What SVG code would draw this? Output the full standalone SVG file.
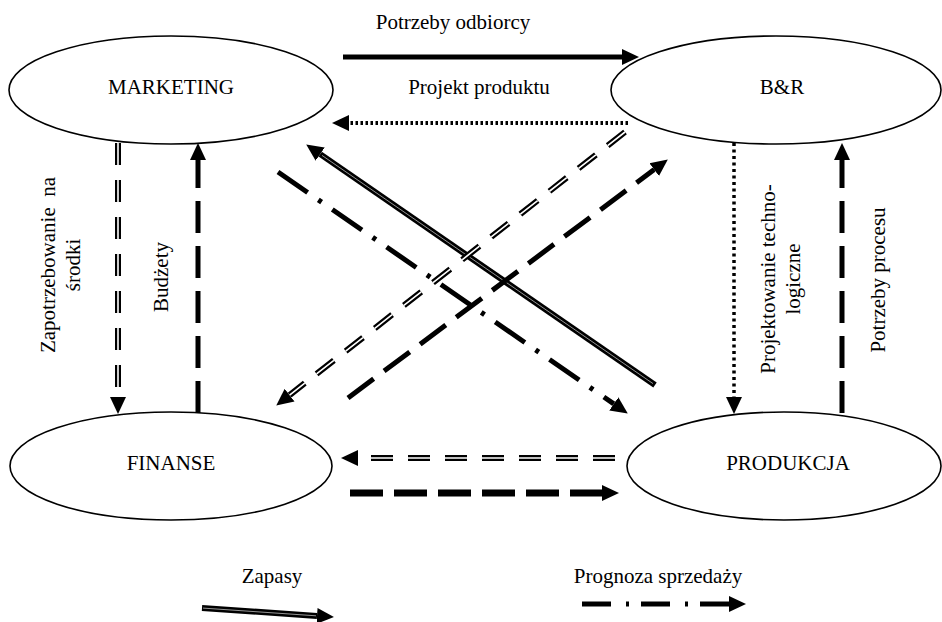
<svg xmlns="http://www.w3.org/2000/svg" width="942" height="622" viewBox="0 0 942 622">
<style>
  text { font-family: "Liberation Serif", "Times New Roman", serif; font-size: 21px; fill: #000; }
  .lbl { text-anchor: middle; }
  .node { fill: #fff; stroke: #000; stroke-width: 1.6; }
  .c { fill: none; stroke: #000; }
  .solid { stroke-width: 5; }
  .dbl { stroke-width: 6; stroke-dasharray: 22 15; }
  .dbl-in { stroke: #fff; stroke-width: 1.6; stroke-dasharray: 22 15; }
  .ldash { stroke-width: 5; stroke-dasharray: 32 13; }
  .tdash { stroke-width: 7; stroke-dasharray: 33 11; }
  .dot { stroke-width: 4; stroke-dasharray: 2.5 2.5; }
  .vdot { stroke-width: 3.5; stroke-dasharray: 3 3.5; }
  .dashdot { stroke-width: 5; stroke-dasharray: 36 13 4 13; }
  .dashdot-l { stroke-width: 5; stroke-dasharray: 29 15 3 12; }
  .zap { stroke-width: 6; }
  .zap-in { stroke: #bbb; stroke-width: 0.8; }
</style>
<defs>
  <marker id="ah" markerUnits="userSpaceOnUse" markerWidth="17" markerHeight="17" refX="0" refY="8" orient="auto" viewBox="0 0 17 16">
    <path d="M0,0 L17,8 L0,16 z" fill="#000"/>
  </marker>
</defs>

<g id="node-marketing">
  <ellipse class="node" cx="171" cy="90" rx="162" ry="54"/>
  <text class="lbl" x="171" y="94">MARKETING</text>
</g>
<g id="node-br">
  <ellipse class="node" cx="776" cy="90" rx="165" ry="54"/>
  <text class="lbl" x="782" y="94">B&amp;R</text>
</g>
<g id="node-finanse">
  <ellipse class="node" cx="171" cy="466" rx="161" ry="54"/>
  <text class="lbl" x="171" y="470">FINANSE</text>
</g>
<g id="node-produkcja">
  <ellipse class="node" cx="784" cy="466" rx="157" ry="54"/>
  <text class="lbl" x="788" y="470">PRODUKCJA</text>
</g>

<g id="connectors">
  <path class="c solid" d="M343,57 L622,57" marker-end="url(#ah)"/>
  <path class="c dot" d="M628,123 L349,123" marker-end="url(#ah)"/>
  <path class="c dbl" d="M118,143 L118,397" marker-end="url(#ah)"/>
  <path class="c dbl-in" d="M118,143 L118,397"/>
  <path class="c ldash" d="M198,413 L198,160" marker-end="url(#ah)"/>
  <path class="c vdot" d="M734,143 L734,397" marker-end="url(#ah)"/>
  <path class="c ldash" d="M842,413 L842,160" marker-end="url(#ah)"/>
  <path class="c zap" d="M655,385 L320.2,154.1" marker-end="url(#ah)"/>
  <path class="c zap-in" d="M653,383.6 L322,155.4"/>
  <path class="c dashdot" d="M278,172 L613.8,403.9" marker-end="url(#ah)"/>
  <path class="c dbl" d="M625,132 L289.6,395.1" marker-end="url(#ah)"/>
  <path class="c dbl-in" d="M625,132 L289.6,395.1"/>
  <path class="c ldash" d="M348,398 L654.2,169.6" marker-end="url(#ah)"/>
  <path class="c dbl" d="M615,458 L358,458" marker-end="url(#ah)"/>
  <path class="c dbl-in" d="M615,458 L358,458"/>
  <path class="c tdash" d="M350,493 L602,493" marker-end="url(#ah)"/>
  <path class="c zap" d="M202,608 L317,615.9" marker-end="url(#ah)"/>
  <path class="c zap-in" d="M203,608.1 L316,615.8"/>
  <path class="c dashdot-l" d="M582,604 L729,604" marker-end="url(#ah)"/>
</g>

<g id="labels">
  <text class="lbl" x="453" y="29">Potrzeby odbiorcy</text>
  <text class="lbl" x="479" y="94">Projekt produktu</text>
  <text class="lbl" transform="translate(55,265) rotate(-90)">Zapotrzebowanie&#160; na</text>
  <text class="lbl" transform="translate(80,265) rotate(-90)">środki</text>
  <text class="lbl" transform="translate(168,277) rotate(-90)">Budżety</text>
  <text class="lbl" transform="translate(775,279) rotate(-90)">Projektowanie techno-</text>
  <text class="lbl" transform="translate(800,279) rotate(-90)">logiczne</text>
  <text class="lbl" transform="translate(885,280) rotate(-90)">Potrzeby procesu</text>
  <text class="lbl" x="272" y="583">Zapasy</text>
  <text class="lbl" x="658" y="583">Prognoza sprzedaży</text>
</g>
</svg>
